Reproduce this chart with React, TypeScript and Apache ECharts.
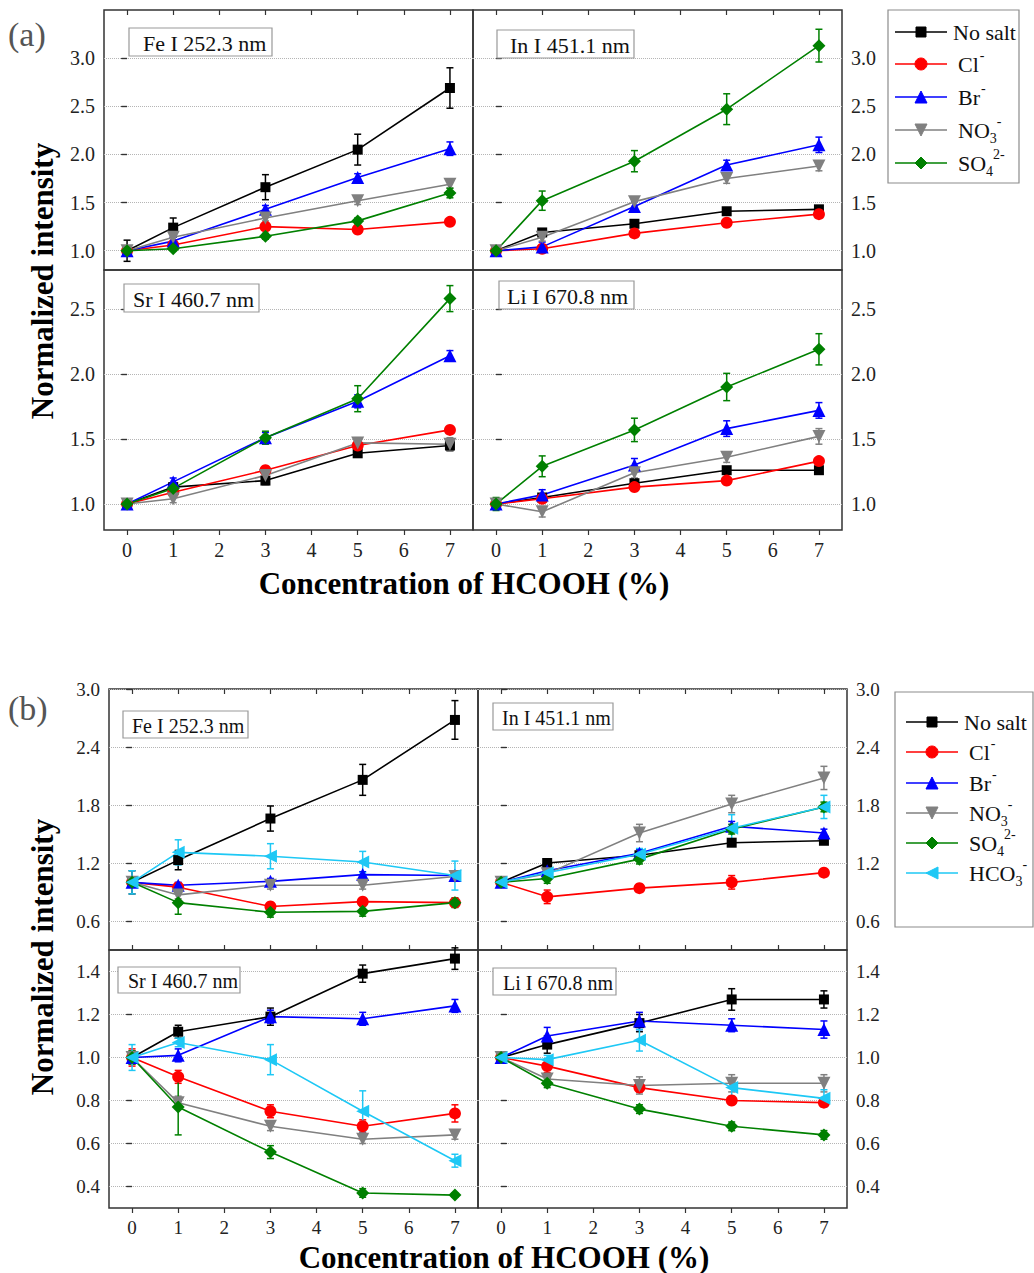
import React, { useEffect, useRef } from 'react';
import * as echarts from 'echarts';

// ---------------- data ----------------
const concentrations = [0, 1, 3, 5, 7];
const xTickValues = [0, 1, 2, 3, 4, 5, 6, 7];
const saltNames = ['No salt', 'Cl-', 'Br-', 'NO3-', 'SO4 2-', 'HCO3-'];
const lineLabels = ['Fe I 252.3 nm', 'In I 451.1 nm', 'Sr I 460.7 nm', 'Li I 670.8 nm'];

const aTopYTicks = [1.0, 1.5, 2.0, 2.5, 3.0];
const aBottomYTicks = [1.0, 1.5, 2.0, 2.5];
const bTopYTicks = [0.6, 1.2, 1.8, 2.4, 3.0];
const bBottomYTicks = [0.4, 0.6, 0.8, 1.0, 1.2, 1.4];

// panel (a): rows = No salt, Cl-, Br-, NO3-, SO4 2-
const aFeMean = [
  [1.0, 1.24, 1.66, 2.05, 2.69],
  [1.0, 1.06, 1.25, 1.22, 1.30],
  [1.0, 1.10, 1.43, 1.76, 2.06],
  [1.0, 1.14, 1.34, 1.52, 1.69],
  [1.0, 1.02, 1.15, 1.31, 1.60],
];
const aFeErr = [
  [0.11, 0.10, 0.13, 0.16, 0.21],
  [0.02, 0.02, 0.03, 0.03, 0.02],
  [0.03, 0.04, 0.04, 0.04, 0.07],
  [0.03, 0.03, 0.03, 0.04, 0.04],
  [0.03, 0.02, 0.03, 0.03, 0.05],
];
const aInMean = [
  [1.0, 1.19, 1.28, 1.41, 1.43],
  [1.0, 1.02, 1.18, 1.29, 1.38],
  [1.0, 1.04, 1.46, 1.89, 2.10],
  [1.0, 1.14, 1.51, 1.75, 1.88],
  [1.0, 1.52, 1.93, 2.47, 3.13],
];
const aInErr = [
  [0.02, 0.02, 0.02, 0.02, 0.02],
  [0.02, 0.02, 0.02, 0.02, 0.02],
  [0.03, 0.05, 0.05, 0.05, 0.08],
  [0.02, 0.04, 0.05, 0.05, 0.05],
  [0.03, 0.10, 0.11, 0.16, 0.17],
];
const aSrMean = [
  [1.0, 1.13, 1.18, 1.39, 1.45],
  [1.0, 1.09, 1.26, 1.45, 1.57],
  [1.0, 1.17, 1.51, 1.79, 2.14],
  [1.0, 1.04, 1.22, 1.47, 1.46],
  [1.0, 1.12, 1.51, 1.81, 2.58],
];
const aSrErr = [
  [0.03, 0.03, 0.03, 0.03, 0.04],
  [0.02, 0.02, 0.02, 0.02, 0.02],
  [0.03, 0.03, 0.04, 0.05, 0.04],
  [0.03, 0.03, 0.03, 0.04, 0.05],
  [0.04, 0.03, 0.05, 0.10, 0.10],
];
const aLiMean = [
  [1.0, 1.05, 1.16, 1.26, 1.26],
  [1.0, 1.04, 1.13, 1.18, 1.33],
  [1.0, 1.07, 1.30, 1.58, 1.72],
  [1.0, 0.94, 1.24, 1.36, 1.52],
  [1.0, 1.29, 1.57, 1.90, 2.19],
];
const aLiErr = [
  [0.03, 0.02, 0.02, 0.02, 0.03],
  [0.02, 0.02, 0.02, 0.02, 0.02],
  [0.04, 0.04, 0.05, 0.06, 0.06],
  [0.04, 0.04, 0.04, 0.04, 0.06],
  [0.05, 0.08, 0.09, 0.105, 0.12],
];

// panel (b): rows = No salt, Cl-, Br-, NO3-, SO4 2-, HCO3-
const bFeMean = [
  [1.0, 1.23, 1.66, 2.06, 2.68],
  [1.0, 0.95, 0.75, 0.80, 0.79],
  [1.0, 0.97, 1.01, 1.08, 1.07],
  [1.0, 0.87, 0.97, 0.97, 1.06],
  [1.0, 0.79, 0.69, 0.70, 0.79],
  [1.0, 1.31, 1.27, 1.21, 1.07],
];
const bFeErr = [
  [0.12, 0.10, 0.13, 0.16, 0.20],
  [0.03, 0.03, 0.03, 0.03, 0.03],
  [0.03, 0.03, 0.03, 0.03, 0.03],
  [0.03, 0.04, 0.04, 0.04, 0.04],
  [0.03, 0.12, 0.05, 0.05, 0.05],
  [0.12, 0.13, 0.13, 0.11, 0.15],
];
const bInMean = [
  [1.0, 1.20, 1.28, 1.41, 1.43],
  [1.0, 0.85, 0.94, 1.00, 1.10],
  [1.0, 1.12, 1.30, 1.58, 1.51],
  [1.0, 1.09, 1.51, 1.81, 2.08],
  [1.0, 1.04, 1.24, 1.55, 1.78],
  [1.0, 1.10, 1.29, 1.56, 1.78],
];
const bInErr = [
  [0.02, 0.03, 0.03, 0.03, 0.03],
  [0.02, 0.07, 0.03, 0.07, 0.03],
  [0.02, 0.04, 0.04, 0.05, 0.04],
  [0.02, 0.05, 0.09, 0.09, 0.12],
  [0.02, 0.05, 0.05, 0.05, 0.05],
  [0.02, 0.06, 0.06, 0.14, 0.12],
];
const bSrMean = [
  [1.0, 1.12, 1.19, 1.39, 1.46],
  [1.0, 0.91, 0.75, 0.68, 0.74],
  [1.0, 1.01, 1.19, 1.18, 1.24],
  [1.0, 0.79, 0.68, 0.62, 0.64],
  [1.0, 0.77, 0.56, 0.37, 0.36],
  [1.0, 1.07, 0.99, 0.75, 0.52],
];
const bSrErr = [
  [0.03, 0.03, 0.04, 0.04, 0.05],
  [0.04, 0.03, 0.03, 0.03, 0.04],
  [0.02, 0.03, 0.03, 0.03, 0.03],
  [0.03, 0.03, 0.02, 0.02, 0.02],
  [0.03, 0.13, 0.03, 0.02, 0.01],
  [0.06, 0.02, 0.07, 0.095, 0.03],
];
const bLiMean = [
  [1.0, 1.06, 1.16, 1.27, 1.27],
  [1.0, 0.96, 0.86, 0.80, 0.79],
  [1.0, 1.10, 1.17, 1.15, 1.13],
  [1.0, 0.90, 0.87, 0.88, 0.88],
  [1.0, 0.88, 0.76, 0.68, 0.64],
  [1.0, 0.99, 1.08, 0.86, 0.81],
];
const bLiErr = [
  [0.02, 0.04, 0.04, 0.05, 0.04],
  [0.02, 0.03, 0.02, 0.01, 0.01],
  [0.02, 0.04, 0.04, 0.03, 0.04],
  [0.02, 0.02, 0.04, 0.04, 0.04],
  [0.02, 0.02, 0.02, 0.02, 0.02],
  [0.02, 0.02, 0.05, 0.04, 0.04],
];

// ---------------- styling ----------------
const COLORS = ['#000000', '#ff0000', '#0000ff', '#808080', '#008000', '#1ec8f5'];
const SYMBOLS = ['rect', 'circle', 'triangle', 'triangle', 'diamond', 'triangle'];
const SYMBOL_ROT = [0, 0, 0, 180, 0, 90];
const SYMBOL_SIZE = [10, 12, 13, 13, 13, 13];
const SERIF = '"Liberation Serif", "Times New Roman", serif';
const FRAME = '#333333';

type PlotDef = {
  mean: number[][];
  err: number[][];
  title: string;
  grid: { left: number; top: number; width: number; height: number };
  yMin: number;
  yMax: number;
  yTicks: number[];
  side: 'left' | 'right';
  row: 'aTop' | 'aBottom' | 'bTop' | 'bBottom';
  box: [number, number, number, number, number];
  font: number;
};

const plotDefs: PlotDef[] = [
  { mean: aFeMean, err: aFeErr, title: lineLabels[0], grid: { left: 104, top: 10, width: 369, height: 260 }, yMin: 0.8, yMax: 3.5, yTicks: aTopYTicks, side: 'left', row: 'aTop', box: [129, 28, 143, 28, 143], font: 22 },
  { mean: aInMean, err: aInErr, title: lineLabels[1], grid: { left: 473, top: 10, width: 369, height: 260 }, yMin: 0.8, yMax: 3.5, yTicks: aTopYTicks, side: 'right', row: 'aTop', box: [497, 30, 137, 28, 510], font: 22 },
  { mean: aSrMean, err: aSrErr, title: lineLabels[2], grid: { left: 104, top: 270, width: 369, height: 260 }, yMin: 0.8, yMax: 2.8, yTicks: aBottomYTicks, side: 'left', row: 'aBottom', box: [124, 284, 135, 28, 133], font: 22 },
  { mean: aLiMean, err: aLiErr, title: lineLabels[3], grid: { left: 473, top: 270, width: 369, height: 260 }, yMin: 0.8, yMax: 2.8, yTicks: aBottomYTicks, side: 'right', row: 'aBottom', box: [499, 281, 135, 28, 507], font: 22 },
  { mean: bFeMean, err: bFeErr, title: lineLabels[0], grid: { left: 109, top: 689, width: 369, height: 261 }, yMin: 0.3, yMax: 3.0, yTicks: bTopYTicks, side: 'left', row: 'bTop', box: [123, 711, 125, 27, 132], font: 20 },
  { mean: bInMean, err: bInErr, title: lineLabels[1], grid: { left: 478, top: 689, width: 369, height: 261 }, yMin: 0.3, yMax: 3.0, yTicks: bTopYTicks, side: 'right', row: 'bTop', box: [493, 703, 120, 27, 502], font: 20 },
  { mean: bSrMean, err: bSrErr, title: lineLabels[2], grid: { left: 109, top: 950, width: 369, height: 258 }, yMin: 0.3, yMax: 1.5, yTicks: bBottomYTicks, side: 'left', row: 'bBottom', box: [118, 967, 122, 26, 128], font: 20 },
  { mean: bLiMean, err: bLiErr, title: lineLabels[3], grid: { left: 478, top: 950, width: 369, height: 258 }, yMin: 0.3, yMax: 1.5, yTicks: bBottomYTicks, side: 'right', row: 'bBottom', box: [493, 968, 123, 27, 503], font: 20 },
];

type LabelParts = { main: string; sub?: string; sup?: string };
const legendParts: LabelParts[] = [
  { main: 'No salt' },
  { main: 'Cl', sup: '-' },
  { main: 'Br', sup: '-' },
  { main: 'NO', sub: '3', sup: '-' },
  { main: 'SO', sub: '4', sup: '2-' },
  { main: 'HCO', sub: '3', sup: '-' },
];

let measureCtx: CanvasRenderingContext2D | null = null;
function textWidth(text: string, size: number): number {
  if (!measureCtx) measureCtx = document.createElement('canvas').getContext('2d');
  if (!measureCtx) return text.length * size * 0.5;
  measureCtx.font = `${size}px "Liberation Serif"`;
  return measureCtx.measureText(text).width;
}

function symbolGraphic(k: number, cx: number, cy: number, s: number): any {
  const color = COLORS[k];
  const style = { fill: color, stroke: color, lineWidth: 1 };
  const h = s / 2;
  switch (k) {
    case 0:
      return { type: 'rect', shape: { x: cx - h, y: cy - h, width: s, height: s }, style };
    case 1:
      return { type: 'circle', shape: { cx, cy, r: h }, style };
    case 2:
      return { type: 'polygon', shape: { points: [[cx, cy - h], [cx + h, cy + h], [cx - h, cy + h]] }, style };
    case 3:
      return { type: 'polygon', shape: { points: [[cx, cy + h], [cx + h, cy - h], [cx - h, cy - h]] }, style };
    case 4:
      return { type: 'polygon', shape: { points: [[cx, cy - h], [cx + h, cy], [cx, cy + h], [cx - h, cy]] }, style };
    default:
      return { type: 'polygon', shape: { points: [[cx - h, cy], [cx + h, cy - h], [cx + h, cy + h]] }, style };
  }
}

function textEl(text: string, x: number, y: number, size: number, opts: any = {}): any {
  return {
    type: 'text',
    x,
    y,
    rotation: opts.rotation || 0,
    z: 20,
    style: {
      text,
      fontSize: size,
      fontFamily: SERIF,
      fontWeight: opts.bold ? 'bold' : 'normal',
      fill: opts.color || '#111',
      align: opts.align || 'left',
      verticalAlign: 'middle',
      textAlign: opts.align || 'left',
      textVerticalAlign: 'middle',
    },
  };
}

function legendGraphics(box: [number, number, number, number], rows: number[], lineX: [number, number], textX: number, count: number): any[] {
  const out: any[] = [];
  out.push({ type: 'rect', z: 15, shape: { x: box[0], y: box[1], width: box[2], height: box[3] }, style: { fill: '#ffffff', stroke: '#8c8c8c', lineWidth: 1.2 } });
  for (let k = 0; k < count; k++) {
    const y = rows[k];
    const cx = (lineX[0] + lineX[1]) / 2;
    out.push({ type: 'line', z: 20, shape: { x1: lineX[0], y1: y, x2: lineX[1], y2: y }, style: { stroke: COLORS[k], lineWidth: 1.6 } });
    out.push({ ...symbolGraphic(k, cx, y, k === 0 ? 10 : 12), z: 21 });
    const p = legendParts[k];
    const tx = k === 0 ? textX : textX + 5;
    out.push(textEl(p.main, tx, y, 22));
    const mw = textWidth(p.main, 22);
    let subW = 0;
    if (p.sub) {
      out.push(textEl(p.sub, tx + mw, y + 8, 14));
      subW = textWidth(p.sub, 14);
    }
    if (p.sup) {
      out.push(textEl(p.sup, tx + mw + subW + (p.sub ? 0 : 1), y - 9, 14));
    }
  }
  return out;
}

function buildOption(): any {
  const grid: any[] = [];
  const xAxis: any[] = [];
  const yAxis: any[] = [];
  const series: any[] = [];
  const graphic: any[] = [];
  const tickStyle = { color: FRAME, width: 1.2 };

  plotDefs.forEach((p, i) => {
    grid.push({ ...p.grid, show: true, borderColor: FRAME, borderWidth: 1.5, backgroundColor: 'transparent' });
    const isBottom = p.row === 'aBottom' || p.row === 'bBottom';
    const isBTop = p.row === 'bTop';
    const labelSize = p.row.startsWith('a') ? 20 : 19;
    const labelStyle = { fontSize: labelSize, fontFamily: SERIF, color: '#222' };

    xAxis.push({
      type: 'value', gridIndex: i, position: 'bottom', min: -0.5, max: 7.5,
      axisLine: { show: false }, splitLine: { show: false },
      axisTick: { show: isBottom || isBTop, inside: !isBottom, length: 5, customValues: xTickValues, lineStyle: tickStyle },
      axisLabel: { show: isBottom, customValues: xTickValues, margin: 10, ...labelStyle },
    });
    xAxis.push({
      type: 'value', gridIndex: i, position: 'top', min: -0.5, max: 7.5,
      axisLine: { show: false }, splitLine: { show: false },
      axisTick: { show: !isBottom, inside: true, length: 5, customValues: xTickValues, lineStyle: tickStyle },
      axisLabel: { show: false },
    });
    yAxis.push({
      type: 'value', gridIndex: i, position: p.side, min: p.yMin, max: p.yMax,
      axisLine: { show: false },
      axisTick: { show: true, inside: false, length: 6, customValues: p.yTicks, lineStyle: tickStyle },
      axisLabel: { show: true, customValues: p.yTicks, formatter: (v: number) => v.toFixed(1), margin: 9, ...labelStyle },
      splitLine: { show: true, lineStyle: { type: 'dotted', color: '#b5b5b5', width: 1 } },
    });
    yAxis.push({
      type: 'value', gridIndex: i, position: p.side === 'left' ? 'right' : 'left', min: p.yMin, max: p.yMax,
      axisLine: { show: false }, splitLine: { show: false },
      axisTick: { show: true, inside: true, length: 5, customValues: p.yTicks, lineStyle: tickStyle },
      axisLabel: { show: false },
    });

    p.mean.forEach((vals, s) => {
      const color = COLORS[s];
      series.push({
        type: 'line',
        name: saltNames[s],
        xAxisIndex: 2 * i,
        yAxisIndex: 2 * i,
        data: concentrations.map((x, k) => [x, vals[k]]),
        symbol: SYMBOLS[s],
        symbolSize: SYMBOL_SIZE[s],
        symbolRotate: SYMBOL_ROT[s],
        showAllSymbol: true,
        lineStyle: { color, width: 1.6 },
        itemStyle: { color, borderWidth: 0 },
        silent: true,
      });
      const errs = p.err[s];
      series.push({
        type: 'custom',
        xAxisIndex: 2 * i,
        yAxisIndex: 2 * i,
        data: concentrations.map((x, k) => [x, vals[k], errs[k]]),
        encode: { x: 0, y: 1 },
        silent: true,
        renderItem: (_params: any, api: any) => {
          const x = api.value(0);
          const y = api.value(1);
          const e = api.value(2);
          const top = api.coord([x, y + e]);
          const bot = api.coord([x, y - e]);
          const hw = 3.5;
          const st = { stroke: color, lineWidth: 1.5 };
          return {
            type: 'group',
            children: [
              { type: 'line', shape: { x1: top[0], y1: top[1], x2: bot[0], y2: bot[1] }, style: st },
              { type: 'line', shape: { x1: top[0] - hw, y1: top[1], x2: top[0] + hw, y2: top[1] }, style: st },
              { type: 'line', shape: { x1: bot[0] - hw, y1: bot[1], x2: bot[0] + hw, y2: bot[1] }, style: st },
            ],
          };
        },
      });
    });

    const [bx, by, bw, bh, tx] = p.box;
    graphic.push({ type: 'rect', z: 15, shape: { x: bx, y: by, width: bw, height: bh }, style: { fill: '#ffffff', stroke: '#999999', lineWidth: 1.2 } });
    graphic.push(textEl(p.title, tx, by + bh / 2 + 1, p.font));
  });

  // panel letters & axis titles
  graphic.push(textEl('(a)', 8, 34, 34, { color: '#555' }));
  graphic.push(textEl('(b)', 8, 708, 34, { color: '#555' }));
  graphic.push(textEl('Normalized intensity', 42, 281, 31, { bold: true, rotation: Math.PI / 2, align: 'center', color: '#000' }));
  graphic.push(textEl('Normalized intensity', 42, 957, 31, { bold: true, rotation: Math.PI / 2, align: 'center', color: '#000' }));
  graphic.push(textEl('Concentration of HCOOH (%)', 464, 583, 31, { bold: true, align: 'center', color: '#000' }));
  graphic.push(textEl('Concentration of HCOOH (%)', 504, 1257, 31, { bold: true, align: 'center', color: '#000' }));

  // legends
  graphic.push(...legendGraphics([888, 10, 131, 173], [32, 64, 97, 130, 163], [895, 947], 953, 5));
  graphic.push(...legendGraphics([895, 692, 138, 235], [722, 752, 783, 813, 843, 873], [906, 958], 964, 6));

  return {
    animation: false,
    backgroundColor: '#ffffff',
    grid,
    xAxis,
    yAxis,
    series,
    graphic,
  };
}

export default function App() {
  const ref = useRef<HTMLDivElement>(null);
  useEffect(() => {
    document.body.style.margin = '0';
    if (!ref.current) return;
    const chart = echarts.init(ref.current, undefined, { renderer: 'svg' });
    chart.setOption(buildOption());
    return () => {
      chart.dispose();
    };
  }, []);
  return <div ref={ref} style={{ width: 1034, height: 1273 }} />;
}
